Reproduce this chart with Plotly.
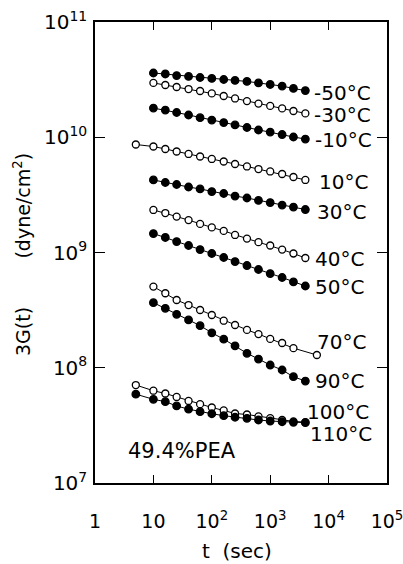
import plotly.graph_objects as go
import math

# ---- data ----
t15 = [5, 10, 16, 25, 40, 63, 100, 160, 250, 400, 630, 1000, 1600, 2500, 4000]
t14 = t15[1:]
t70 = [10, 16, 25, 40, 63, 100, 160, 250, 400, 630, 1000, 1600, 2500, 6300]

g_m50 = [3.61e10, 3.54e10, 3.43e10, 3.37e10, 3.30e10, 3.24e10, 3.17e10, 3.11e10, 3.05e10, 2.96e10, 2.87e10, 2.78e10, 2.65e10, 2.54e10]
g_m30 = [2.96e10, 2.84e10, 2.73e10, 2.62e10, 2.52e10, 2.40e10, 2.28e10, 2.17e10, 2.06e10, 1.96e10, 1.87e10, 1.78e10, 1.69e10, 1.61e10]
g_m10 = [1.79e10, 1.72e10, 1.64e10, 1.56e10, 1.48e10, 1.41e10, 1.34e10, 1.28e10, 1.215e10, 1.156e10, 1.11e10, 1.056e10, 1.005e10, 9.65e9]
g_10 = [8.65e9, 8.31e9, 7.91e9, 7.52e9, 7.16e9, 6.81e9, 6.48e9, 6.16e9, 5.86e9, 5.58e9, 5.30e9, 5.05e9, 4.80e9, 4.52e9, 4.26e9]
g_30 = [4.26e9, 4.05e9, 3.89e9, 3.70e9, 3.56e9, 3.38e9, 3.25e9, 3.09e9, 2.97e9, 2.83e9, 2.71e9, 2.58e9, 2.48e9, 2.36e9]
g_40 = [2.34e9, 2.20e9, 2.05e9, 1.91e9, 1.77e9, 1.65e9, 1.54e9, 1.42e9, 1.32e9, 1.23e9, 1.15e9, 1.06e9, 9.8e8, 8.96e8]
g_50 = [1.46e9, 1.35e9, 1.245e9, 1.15e9, 1.06e9, 9.8e8, 9.05e8, 8.35e8, 7.71e8, 7.12e8, 6.57e8, 6.07e8, 5.55e8, 5.12e8]
g_70 = [5.06e8, 4.43e8, 3.87e8, 3.50e8, 3.17e8, 2.87e8, 2.56e8, 2.35e8, 2.13e8, 1.96e8, 1.78e8, 1.64e8, 1.48e8, 1.29e8]
g_90 = [3.67e8, 3.28e8, 2.91e8, 2.60e8, 2.32e8, 2.01e8, 1.77e8, 1.55e8, 1.335e8, 1.19e8, 1.056e8, 9.56e7, 8.36e7, 7.67e7]
g_100 = [7.08e7, 6.32e7, 5.98e7, 5.58e7, 5.15e7, 4.83e7, 4.52e7, 4.26e7, 4.01e7, 3.93e7, 3.79e7, 3.66e7, 3.52e7, 3.42e7, 3.37e7]
g_110 = [5.90e7, 5.32e7, 5.08e7, 4.66e7, 4.37e7, 4.16e7, 3.99e7, 3.84e7, 3.72e7, 3.64e7, 3.52e7, 3.45e7, 3.40e7, 3.36e7, 3.34e7]

series_labels = ["-50°C", "-30°C", "-10°C", "10°C", "30°C", "40°C", "50°C", "70°C", "90°C", "100°C", "110°C"]
series_t = [t14, t14, t14, t15, t14, t14, t14, t70, t14, t15, t15]
series_g = [g_m50, g_m30, g_m10, g_10, g_30, g_40, g_50, g_70, g_90, g_100, g_110]
series_filled = [True, False, True, False, True, False, True, False, True, False, True]

x_tickvals = [1, 10, 100, 1000, 10000, 100000]
x_ticktext = ["1", "10", "10<sup>2</sup>", "10<sup>3</sup>", "10<sup>4</sup>", "10<sup>5</sup>"]
y_tickvals = [1e7, 1e8, 1e9, 1e10, 1e11]
y_ticktext = ["10<sup>7</sup>", "10<sup>8</sup>", "10<sup>9</sup>", "10<sup>10</sup>", "10<sup>11</sup>"]
y_minorvals = [m * 10 ** e for e in range(7, 11) for m in (2, 5)]

# label placement (log10 x, log10 y) for curve labels
label_pos = [(3.716, 10.384), (3.716, 10.193), (3.733, 9.976), (3.801, 9.612), (3.767, 9.354),
             (3.733, 8.944), (3.733, 8.701), (3.767, 8.223), (3.733, 7.885), (3.596, 7.619), (3.647, 7.425)]

FONT = "DejaVu Sans"

fig = go.Figure()
for lab, tt, gg, filled in zip(series_labels, series_t, series_g, series_filled):
    fig.add_trace(go.Scatter(
        x=tt, y=gg, mode="lines+markers", name=lab,
        line=dict(color="black", width=1),
        marker=dict(symbol="circle", size=7.5 if filled else 7,
                    color="black" if filled else "white",
                    line=dict(color="black", width=1.3)),
        showlegend=False, cliponaxis=False,
    ))

annotations = []
for lab, (lx, ly) in zip(series_labels, label_pos):
    annotations.append(dict(x=lx, y=ly, xref="x", yref="y", text=lab, showarrow=False,
                            xanchor="left", yanchor="middle",
                            font=dict(family=FONT, size=20, color="black")))
annotations.append(dict(x=math.log10(3.4), y=7.28, xref="x", yref="y", text="49.4%PEA",
                        showarrow=False, xanchor="left", yanchor="middle",
                        font=dict(family=FONT, size=21, color="black")))
annotations.append(dict(x=-0.25, y=0.4946, xref="paper", yref="paper",
                        text="3G(t)" + "\u00a0" * 8 + "(dyne/cm<sup>2</sup>)",
                        textangle=-90, showarrow=False, xanchor="center", yanchor="middle",
                        font=dict(family=FONT, size=19, color="black")))
annotations.append(dict(x=0.486, y=-0.1475, xref="paper", yref="paper",
                        text="t\u00a0\u00a0(sec)", showarrow=False, xanchor="center", yanchor="middle",
                        font=dict(family=FONT, size=20, color="black")))

# minor y ticks (at 2 and 5 of each decade) on left and right frame
shapes = []
tick_frac = 5 / 292
for v in y_minorvals:
    ly = math.log10(v)
    for x0, x1 in ((0, tick_frac), (1 - tick_frac, 1)):
        shapes.append(dict(type="line", xref="paper", yref="y", x0=x0, x1=x1, y0=ly, y1=ly,
                           line=dict(color="black", width=1.3)))

fig.update_layout(
    width=403, height=564,
    margin=dict(l=95, r=16, t=22, b=81, autoexpand=False),
    paper_bgcolor="white", plot_bgcolor="white",
    font=dict(family=FONT, size=19, color="black"),
    annotations=annotations, shapes=shapes,
    xaxis=dict(type="log", range=[0, 5], tickmode="array", tickvals=x_tickvals, ticktext=x_ticktext,
               ticks="inside", ticklen=8, tickwidth=1.3, tickcolor="black",
               showline=True, linecolor="black", linewidth=1.5, mirror="ticks",
               showgrid=False, zeroline=False, ticklabelstandoff=20, automargin=False,
               ticklabeloverflow="allow",
               tickfont=dict(family=FONT, size=19, color="black")),
    yaxis=dict(type="log", range=[7, 11], tickmode="array", tickvals=y_tickvals, ticktext=y_ticktext,
               ticks="inside", ticklen=10, tickwidth=1.3, tickcolor="black",
               showline=True, linecolor="black", linewidth=1.5, mirror="ticks",
               showgrid=False, zeroline=False, ticklabelstandoff=2, automargin=False,
               ticklabeloverflow="allow",
               tickfont=dict(family=FONT, size=20, color="black")),
)

fig.write_html("out.html", config={"displayModeBar": False},
               post_script="document.body.style.margin='0';")
